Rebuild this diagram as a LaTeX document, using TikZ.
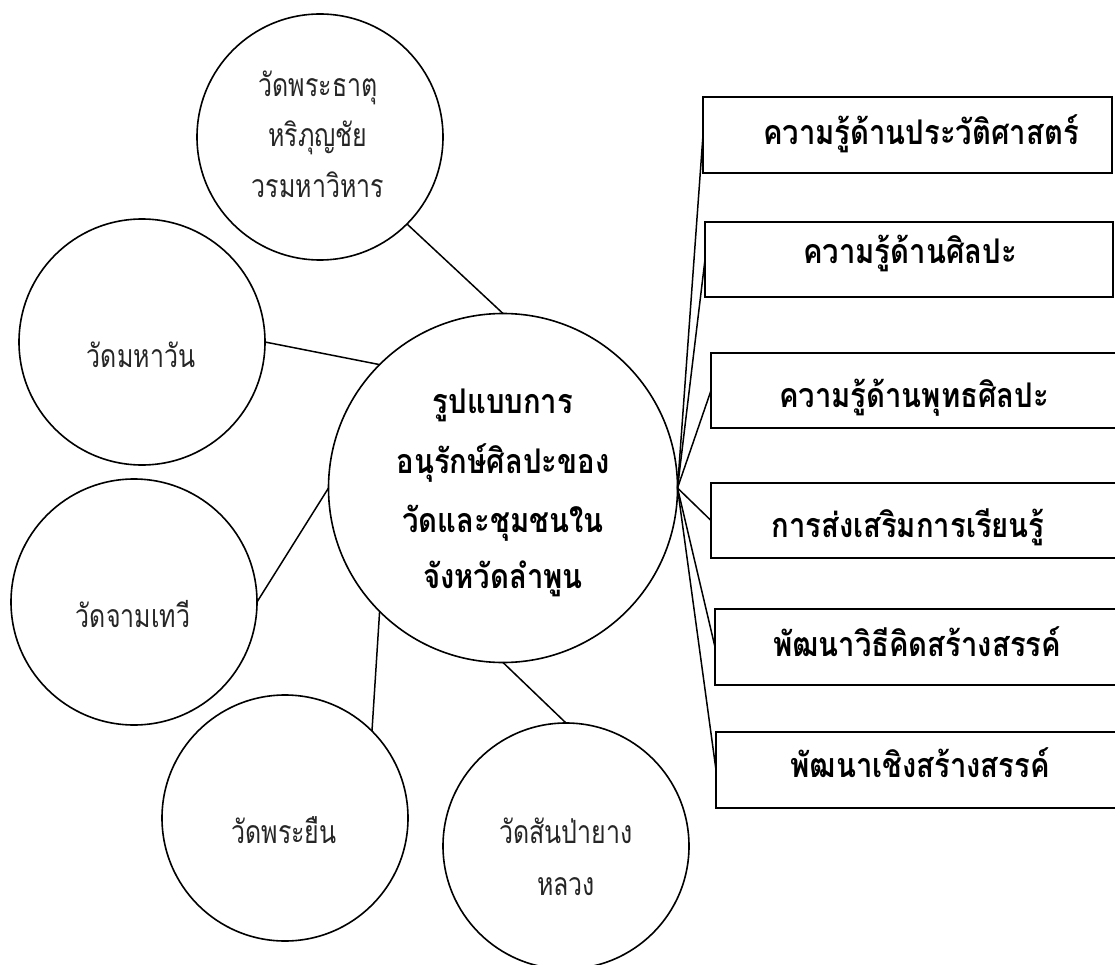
\documentclass[tikz,border=0pt]{standalone}
\usepackage{fontspec}
\newfontfamily\thai[Script=Thai, FakeStretch=0.78]{Loma}
\newfontfamily\thaib[Script=Thai, FakeStretch=0.86]{Loma Bold}
\begin{document}
\begin{tikzpicture}[x=1pt,y=-1pt,
  every node/.style={inner sep=0pt, outer sep=0pt},
  circ/.style={draw, circle, line width=1.6pt, minimum size=246pt},
  bigcirc/.style={draw, circle, line width=1.6pt, minimum size=349pt},
  boxnode/.style={draw, rectangle, line width=1.6pt},
  conn/.style={line width=1.5pt},
  lbl/.style={anchor=base, text=black!85, font=\thai\fontsize{32}{38}\selectfont},
  blbl/.style={anchor=base, font=\thaib\fontsize{34}{40}\selectfont}]
\useasboundingbox (0,0) rectangle (1115,965);
\fill[white] (0,0) rectangle (1115,965);

% circles
\node[bigcirc] (center) at (503,488) {};
\node[circ] (dhatu) at (320,137) {};
\node[circ] (mahawan) at (142,342) {};
\node[circ] (cham) at (134,602) {};
\node[circ] (yuen) at (285,818) {};
\node[circ] (sanpa) at (566,846) {};

% boxes
\node[boxnode, minimum width=409pt, minimum height=76pt] (b1) at (907.5,135) {};
\node[boxnode, minimum width=408pt, minimum height=75pt] (b2) at (909,259.5) {};
\node[boxnode, minimum width=414pt, minimum height=75pt] (b3) at (918,390.5) {};
\node[boxnode, minimum width=414pt, minimum height=75pt] (b4) at (918,520.5) {};
\node[boxnode, minimum width=410pt, minimum height=76pt] (b5) at (920,647) {};
\node[boxnode, minimum width=409pt, minimum height=76pt] (b6) at (920.5,770) {};

% connectors
\draw[conn] (dhatu.-45) -- (center.north);
\draw[conn] (mahawan.east) -- (center.135);
\draw[conn] (cham.east) -- (center.west);
\draw[conn] (yuen.45) -- (center.225);
\draw[conn] (center.south) -- (sanpa.north);
\foreach \b in {b1,b2,b3,b4,b5,b6} \draw[conn] (center.east) -- (\b.west);

% central text
\node[blbl] (t1) at (503,413) {รูปแบบการ};
\node[blbl] (t2) at (503,473) {อนุรักษ์ศิลปะของ};
\node[blbl] (t3) at (503,532) {วัดและชุมชนใน};
\node[blbl] (t4) at (503,588) {จังหวัดลำพูน};

% circle texts
\node[lbl] (d1) at (318,97) {วัดพระธาตุ};
\node[lbl] (d2) at (318,147) {หริภุญชัย};
\node[lbl] (d3) at (318,198) {วรมหาวิหาร};
\node[lbl] (m1) at (141,367) {วัดมหาวัน};
\node[lbl] (c1) at (133,627) {วัดจามเทวี};
\node[lbl] (y1) at (284,843) {วัดพระยืน};
\node[lbl] (s1) at (566,843) {วัดสันป่ายาง};
\node[lbl] (s2) at (566,895) {หลวง};

% box texts
\node[blbl] (bt1) at (921,145) {ความรู้ด้านประวัติศาสตร์};
\node[blbl] (bt2) at (910,264) {ความรู้ด้านศิลปะ};
\node[blbl] (bt3) at (914,407) {ความรู้ด้านพุทธศิลปะ};
\node[blbl] (bt4) at (908,537) {การส่งเสริมการเรียนรู้};
\node[blbl] (bt5) at (917,656) {พัฒนาวิธีคิดสร้างสรรค์};
\node[blbl] (bt6) at (920,777) {พัฒนาเชิงสร้างสรรค์};
\end{tikzpicture}
\end{document}
